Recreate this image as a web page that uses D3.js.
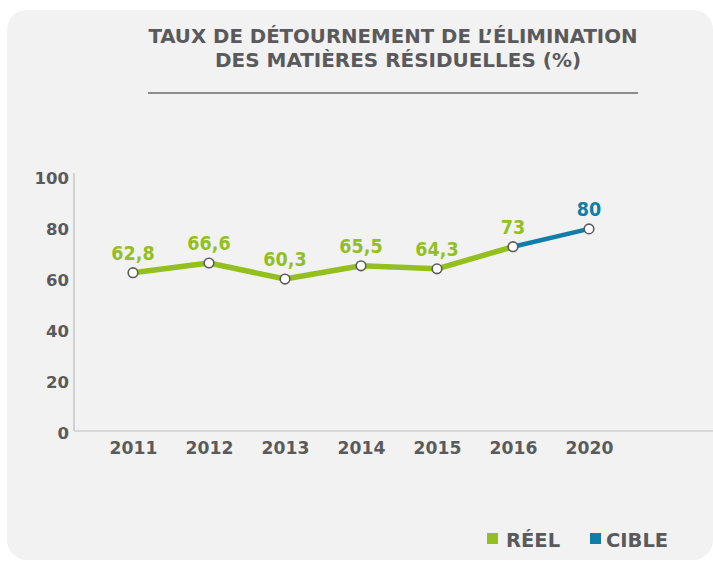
<!DOCTYPE html>
<html><head><meta charset="utf-8">
<script src="https://cdn.jsdelivr.net/npm/d3@7/dist/d3.min.js"></script>
<style>
html,body{margin:0;padding:0;background:#fff;}
svg{display:block;}
text{font-family:"DejaVu Sans",sans-serif;font-weight:700;}
</style></head>
<body>
<svg id="chart" width="713" height="564"></svg>
<script>
const titleLines = ["TAUX DE DÉTOURNEMENT DE L’ÉLIMINATION", "DES MATIÈRES RÉSIDUELLES (%)"];
const years = ["2011","2012","2013","2014","2015","2016","2020"];
const reelYears = ["2011","2012","2013","2014","2015","2016"];
const reelValues = [62.8, 66.6, 60.3, 65.5, 64.3, 73];
const reelLabels = ["62,8","66,6","60,3","65,5","64,3","73"];
const cibleYears = ["2016","2020"];
const cibleValues = [73, 80];
const cibleLabels = ["80"];
const yTicks = [0,20,40,60,80,100];
const legendItems = ["RÉEL","CIBLE"];

const GREEN = "#93c01f", BLUE = "#107ea6", GRAY = "#5a5a5c";
const svg = d3.select("#chart");

svg.append("rect").attr("x",7).attr("y",10).attr("width",706).attr("height",550)
  .attr("rx",20).attr("fill","#f2f2f2");

// Title
const tt = svg.append("text").attr("text-anchor","middle").attr("fill",GRAY).attr("font-size",19)
  .style("font-family","'DejaVu Sans Condensed','DejaVu Sans',sans-serif");
tt.append("tspan").attr("x",393).attr("y",43).attr("textLength",489).attr("lengthAdjust","spacingAndGlyphs").text(titleLines[0]);
tt.append("tspan").attr("x",398).attr("y",67).attr("textLength",366).attr("lengthAdjust","spacingAndGlyphs").text(titleLines[1]);
svg.append("line").attr("x1",148).attr("x2",638).attr("y1",93).attr("y2",93)
  .attr("stroke","#6a6a6a").attr("stroke-width",1.5);

const x = d3.scalePoint().domain(years).range([133,589]);
const y = d3.scaleLinear().domain([0,100]).range([432.5,178]);

// axes lines
svg.append("line").attr("x1",74).attr("x2",74).attr("y1",y(100)-5).attr("y2",y(0)-1.5)
  .attr("stroke","#bdbdbd").attr("stroke-width",1.2);
svg.append("line").attr("x1",74).attr("x2",713).attr("y1",y(0)-1.5).attr("y2",y(0)-1.5)
  .attr("stroke","#bdbdbd").attr("stroke-width",1.2);

// y axis labels
const ya = svg.append("g").attr("transform","translate(69,0)")
  .call(d3.axisLeft(y).tickValues(yTicks).tickSize(0).tickPadding(0).tickFormat(d3.format("d")));
ya.select(".domain").remove();
ya.selectAll("text").attr("fill",GRAY).attr("font-size",16.5).attr("font-family",null).attr("dy","0.36em");

// x axis labels
const xa = svg.append("g").attr("transform",`translate(0,${y(0)-1.5})`)
  .call(d3.axisBottom(x).tickSize(0).tickPadding(0));
xa.select(".domain").remove();
xa.selectAll("text").attr("fill",GRAY).attr("font-size",17.2).attr("font-family",null).attr("dy",null).attr("y",22.5);

const line = d3.line().x(d=>x(d[0])).y(d=>y(d[1]));
const reel = reelYears.map((yr,i)=>[yr,reelValues[i]]);
const cible = cibleYears.map((yr,i)=>[yr,cibleValues[i]]);

svg.append("path").datum(cible).attr("d",line).attr("fill","none").attr("stroke",BLUE).attr("stroke-width",4.5);
svg.append("path").datum(reel).attr("d",line).attr("fill","none").attr("stroke",GREEN).attr("stroke-width",5.5)
  .attr("stroke-linejoin","round");

const pts = reel.concat([cible[1]]);
svg.selectAll("circle.pt").data(pts).enter().append("circle").attr("class","pt")
  .attr("cx",d=>x(d[0])).attr("cy",d=>y(d[1])).attr("r",4.8)
  .attr("fill","#fff").attr("stroke","#5a5a5a").attr("stroke-width",1.6);

const lblFont = "'DejaVu Sans Condensed','DejaVu Sans',sans-serif";
svg.selectAll("text.rl").data(reel).enter().append("text").attr("class","rl")
  .attr("x",d=>x(d[0])).attr("y",d=>y(d[1])-13).attr("text-anchor","middle")
  .style("font-family",lblFont)
  .attr("fill",GREEN).attr("font-size",19.5).text((d,i)=>reelLabels[i]);
svg.selectAll("text.cl").data([cible[1]]).enter().append("text").attr("class","cl")
  .attr("x",d=>x(d[0])).attr("y",d=>y(d[1])-13).attr("text-anchor","middle")
  .style("font-family",lblFont)
  .attr("fill",BLUE).attr("font-size",19.5).text((d,i)=>cibleLabels[i]);

// legend
const lg = [{c:GREEN,x:487,tx:506},{c:BLUE,x:590,tx:606}];
lg.forEach((l,i)=>{
  svg.append("rect").attr("x",l.x).attr("y",533).attr("width",11).attr("height",11).attr("fill",l.c);
  svg.append("text").attr("x",l.tx).attr("y",546.5).attr("fill",GRAY).attr("font-size",19.5).text(legendItems[i]);
});
</script>
</body></html>
